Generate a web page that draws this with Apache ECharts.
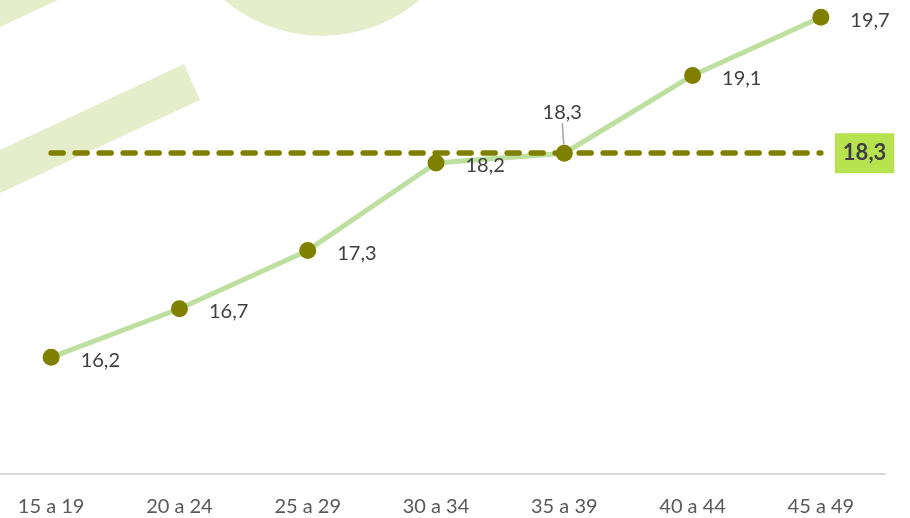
<!DOCTYPE html>
<html>
<head>
<meta charset="utf-8">
<script src="https://cdn.jsdelivr.net/npm/echarts@6/dist/echarts.min.js"></script>
<style>
  html, body { margin: 0; padding: 0; background: #fff; }
  #chart { width: 910px; height: 518px; }
</style>
</head>
<body>
<div id="chart"></div>
<script>
const categories = ['15 a 19', '20 a 24', '25 a 29', '30 a 34', '35 a 39', '40 a 44', '45 a 49'];
const values = [16.2, 16.7, 17.3, 18.2, 18.3, 19.1, 19.7];
const average = 18.3;

const colors = {
    line: '#bddf9f',
    point: '#808000',
    avg: '#808000',
    avgBox: '#b6e34f',
    text: '#404040',
    axis: '#d9d9d9',
    deco: '#e6edcb'
};

const fmt = v => v.toFixed(1).replace('.', ',');

// the 35 a 39 label sits above its point, with a leader line
const raisedIndex = 4;
const seriesData = values.map((v, i) => i === raisedIndex
    ? { value: v, labelLine: { show: true, lineStyle: { color: '#a6a6a6', width: 1.5 } } }
    : { value: v, labelLine: { show: false } });

const chart = echarts.init(document.getElementById('chart'));

const option = {
    backgroundColor: '#fff',
    animation: false,
    graphic: [
        // decorative background shapes
        { type: 'circle', z: -10, silent: true, shape: { cx: 322, cy: -114, r: 150 }, style: { fill: colors.deco } },
        { type: 'polygon', z: -10, silent: true, shape: { points: [[0, 0], [58, 0], [0, 27]] }, style: { fill: colors.deco } },
        { type: 'polygon', z: -10, silent: true, shape: { points: [[184, 64], [200, 100], [0, 193], [0, 150]] }, style: { fill: colors.deco } }
    ],
    grid: { left: -13, right: 25, top: -12, bottom: 44, outerBoundsMode: 'none' },
    xAxis: {
        type: 'category',
        data: categories,
        boundaryGap: true,
        axisTick: { show: false },
        axisLine: { show: true, lineStyle: { color: colors.axis, width: 2 } },
        axisLabel: { color: '#595959', fontSize: 20, fontFamily: 'Lato', margin: 23 }
    },
    yAxis: {
        type: 'value',
        min: 15,
        max: 20,
        show: false,
        splitLine: { show: false }
    },
    series: [
        {
            type: 'line',
            data: seriesData,
            symbol: 'circle',
            symbolSize: 17,
            z: 3,
            lineStyle: { color: colors.line, width: 5 },
            itemStyle: { color: colors.point },
            label: {
                show: true,
                position: 'right',
                distance: 21,
                color: colors.text,
                fontSize: 20,
                fontFamily: 'Lato',
                formatter: p => fmt(p.value)
            },
            labelLine: { show: false },
            labelLayout: p => p.dataIndex === raisedIndex
                ? { x: p.rect.x + p.rect.width / 2 - 2, y: 113, align: 'center', verticalAlign: 'middle' }
                : { dy: 3 },
            markLine: {
                silent: true,
                symbol: ['none', 'none'],
                z: 4,
                lineStyle: { color: colors.avg, width: 5.5, type: [12, 12], cap: 'round' },
                label: {
                    show: true,
                    position: 'end',
                    distance: 14,
                    formatter: () => fmt(average),
                    color: colors.text,
                    fontSize: 22,
                    fontWeight: 'bold',
                    fontFamily: 'Lato',
                    backgroundColor: colors.avgBox,
                    padding: [10, 8, 8, 8]
                },
                data: [[
                    { xAxis: 0, yAxis: average },
                    { xAxis: 6, yAxis: average }
                ]]
            }
        }
    ]
};

chart.setOption(option);
window.addEventListener('resize', () => chart.resize());
</script>
</body>
</html>
